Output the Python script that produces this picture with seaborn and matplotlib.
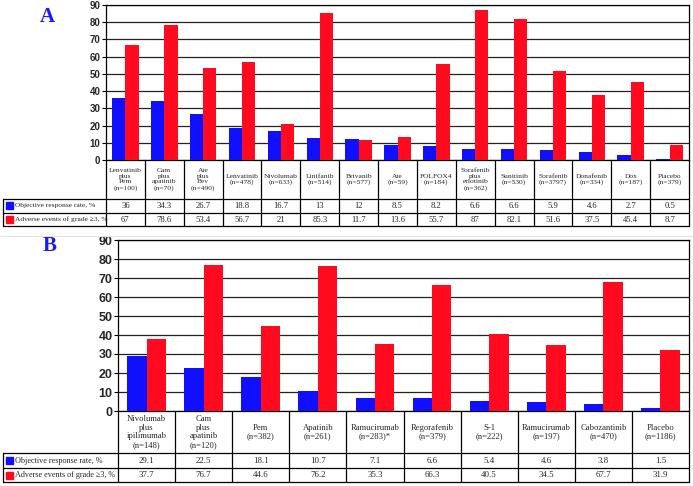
import pandas as pd
import matplotlib
matplotlib.use("Agg")
import matplotlib.pyplot as plt
import matplotlib.transforms as mtransforms
from matplotlib.lines import Line2D
from matplotlib.patches import Rectangle
import seaborn as sns

# Panel A data
cats_a = ["Lenvatinib\nplus\nPem\n(n=100)", "Cam\nplus\napatinib\n(n=70)", "Ate\nplus\nBev\n(n=490)",
          "Lenvatinib\n(n=478)", "Nivolumab\n(n=633)", "Linifanib\n(n=514)", "Brivanib\n(n=577)",
          "Ate\n(n=59)", "FOLFOX4\n(n=184)", "Sorafenib\nplus\nerlotinib\n(n=362)", "Sunitinib\n(n=530)",
          "Sorafenib\n(n=3797)", "Donafenib\n(n=334)", "Dox\n(n=187)", "Placebo\n(n=379)"]
orr_a = [36, 34.3, 26.7, 18.8, 16.7, 13, 12, 8.5, 8.2, 6.6, 6.6, 5.9, 4.6, 2.7, 0.5]
ae_a = [67, 78.6, 53.4, 56.7, 21, 85.3, 11.7, 13.6, 55.7, 87, 82.1, 51.6, 37.5, 45.4, 8.7]

# Panel B data
cats_b = ["Nivolumab\nplus\nipilimumab\n(n=148)", "Cam\nplus\napatinib\n(n=120)", "Pem\n(n=382)",
          "Apatinib\n(n=261)", "Ramucirumab\n(n=283)*", "Regorafenib\n(n=379)", "S-1\n(n=222)",
          "Ramucirumab\n(n=197)", "Cabozantinib\n(n=470)", "Placebo\n(n=1186)"]
orr_b = [29.1, 22.5, 18.1, 10.7, 7.1, 6.6, 5.4, 4.6, 3.8, 1.5]
ae_b = [37.7, 76.7, 44.6, 76.2, 35.3, 66.3, 40.5, 34.5, 67.7, 31.9]

metrics = ["Objective response rate, %", "Adverse events of grade \u22653, %"]
yticks = [0, 10, 20, 30, 40, 50, 60, 70, 80, 90]

BLUE = "#1010ff"
RED = "#ff0a1e"
W, H = 693, 486

sns.set_style("white")
plt.rcParams["font.family"] = ["Liberation Serif", "DejaVu Serif"]

fig = plt.figure(figsize=(W / 100, H / 100), dpi=100)


def fx(px):
    return px / W


def fy(py):
    return 1 - py / H


def panel(cats, orr, ae, box, rows, label_left, tick_fs, cat_fs, val_fs, leg_fs):
    left, top, right, bottom = box
    ax = fig.add_axes([fx(left), fy(bottom), (right - left) / W, (bottom - top) / H])
    df = pd.DataFrame({"Regimen": cats, metrics[0]: orr, metrics[1]: ae})
    long = df.melt(id_vars="Regimen", var_name="Metric", value_name="Value")
    sns.barplot(data=long, x="Regimen", y="Value", hue="Metric", order=cats,
                hue_order=metrics, palette=[BLUE, RED], saturation=1, width=0.68,
                legend=False, ax=ax, zorder=3, linewidth=0)
    n = len(cats)
    ax.set_xlim(-0.5, n - 0.5)
    ax.set_ylim(0, 90)
    ax.set_yticks(yticks)
    ax.set_yticklabels([str(t) for t in yticks], family="Liberation Sans",
                       fontweight="bold", fontsize=tick_fs)
    ax.yaxis.grid(True, color="#222222", lw=0.9, zorder=0)
    ax.set_axisbelow(True)
    ax.tick_params(axis="y", length=3, width=0.8, color="black", pad=1, left=True)
    ax.tick_params(axis="x", length=0, labelbottom=False)
    ax.set_xlabel("")
    ax.set_ylabel("")
    for s in ax.spines.values():
        s.set_visible(True)
        s.set_color("black")
        s.set_linewidth(0.9)

    # table below the bars
    trans = mtransforms.blended_transform_factory(ax.transData, fig.transFigure)
    y0, y1, y2, y3 = fy(bottom), fy(rows[0]), fy(rows[1]), fy(rows[2])
    lw = 0.9
    for yy in (y1, y2, y3):
        fig.add_artist(Line2D([fx(label_left), fx(right)], [yy, yy], color="black", lw=lw))
    for i in range(n + 1):
        ax.add_line(Line2D([i - 0.5, i - 0.5], [y0, y3], transform=trans,
                           color="black", lw=lw, clip_on=False))
    fig.add_artist(Line2D([fx(label_left), fx(label_left)], [y1, y3], color="black", lw=lw))
    for i in range(n):
        ax.text(i, (y0 + y1) / 2, cats[i], transform=trans, ha="center", va="center",
                fontsize=cat_fs, linespacing=1.15)
        ax.text(i, (y1 + y2) / 2, f"{orr[i]:g}", transform=trans, ha="center",
                va="center", fontsize=val_fs)
        ax.text(i, (y2 + y3) / 2, f"{ae[i]:g}", transform=trans, ha="center",
                va="center", fontsize=val_fs)
    for k, (ya, yb, col) in enumerate([(y1, y2, BLUE), (y2, y3, RED)]):
        ym = (ya + yb) / 2
        sq = 7
        fig.add_artist(Rectangle((fx(label_left + 3), ym - sq / 2 / H), sq / W, sq / H,
                                 color=col, transform=fig.transFigure))
        fig.text(fx(label_left + 12), ym, metrics[k], ha="left", va="center",
                 fontsize=leg_fs)
    return ax


ax_a = panel(cats_a, orr_a, ae_a, (106, 5, 689, 160), (199, 213, 226), 3, 7, 5.4, 6.2, 5.4)
ax_b = panel(cats_b, orr_b, ae_b, (118, 240, 689, 411), (453, 468, 482), 3, 9, 6.2, 6.4, 5.9)

fig.add_artist(Line2D([0, 1], [fy(236), fy(236)], color="#e4e4e4", lw=0.8))
fig.text(fx(47), fy(17), "A", color="#1a1aff", fontsize=15, fontweight="bold",
         ha="center", va="center")
fig.text(fx(50), fy(246), "B", color="#1a1aff", fontsize=15, fontweight="bold",
         ha="center", va="center")

fig.savefig("out.png", dpi=100)
